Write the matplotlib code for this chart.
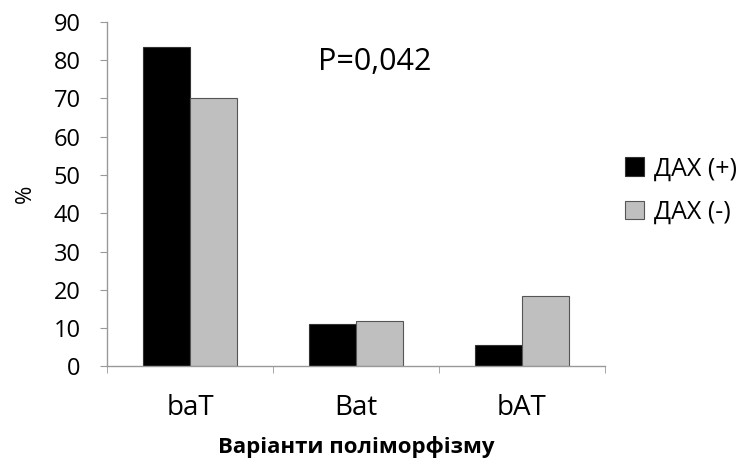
import numpy as np
import matplotlib.pyplot as plt

plt.rcParams['font.family'] = ['Open Sans', 'DejaVu Sans']

categories = ['baT', 'Bat', 'bAT']
dah_pos = [83.5, 11.1, 5.5]
dah_neg = [70.0, 11.9, 18.4]
series_names = ['ДАХ (+)', 'ДАХ (-)']


def main():
    fig = plt.figure(figsize=(7.44, 4.61), dpi=100)
    ax = fig.add_axes([0.144, 0.205, 0.669, 0.748])

    x = np.arange(len(categories))
    w = 0.285
    ax.bar(x - w / 2, dah_pos, w, color='black', edgecolor='#333333',
           linewidth=0.8, label=series_names[0])
    ax.bar(x + w / 2, dah_neg, w, color='#bfbfbf', edgecolor='#555555',
           linewidth=0.8, label=series_names[1])

    ax.set_xlim(-0.5, len(categories) - 0.5)
    ax.set_ylim(0, 90)
    ax.set_yticks(range(0, 91, 10))
    ax.set_xticks(x)
    ax.set_xticklabels(categories, fontsize=20)
    ax.set_xticks(np.arange(-0.5, len(categories)), minor=True)
    ax.tick_params(axis='x', which='major', length=0, pad=20)
    ax.tick_params(axis='x', which='minor', length=5, color='#999999', direction='out')
    ax.tick_params(axis='y', labelsize=17, length=5, color='#999999', pad=14)

    for s in ['top', 'right']:
        ax.spines[s].set_visible(False)
    for s in ['left', 'bottom']:
        ax.spines[s].set_color('#999999')
        ax.spines[s].set_linewidth(1)

    ax.set_ylabel('%', fontsize=16, labelpad=13)
    ax.set_xlabel('Варіанти поліморфізму', fontsize=16, fontweight='bold', labelpad=10)

    ax.text(1.115, 79.5, 'P=0,042', fontsize=22, ha='center', va='center')

    ax.legend(loc='center left', bbox_to_anchor=(0.995, 0.51), frameon=False,
              fontsize=18, handlelength=0.75, handleheight=0.75, handletextpad=0.4,
              labelspacing=0.75)

    fig.savefig('out.png', dpi=100)


if __name__ == '__main__':
    main()
